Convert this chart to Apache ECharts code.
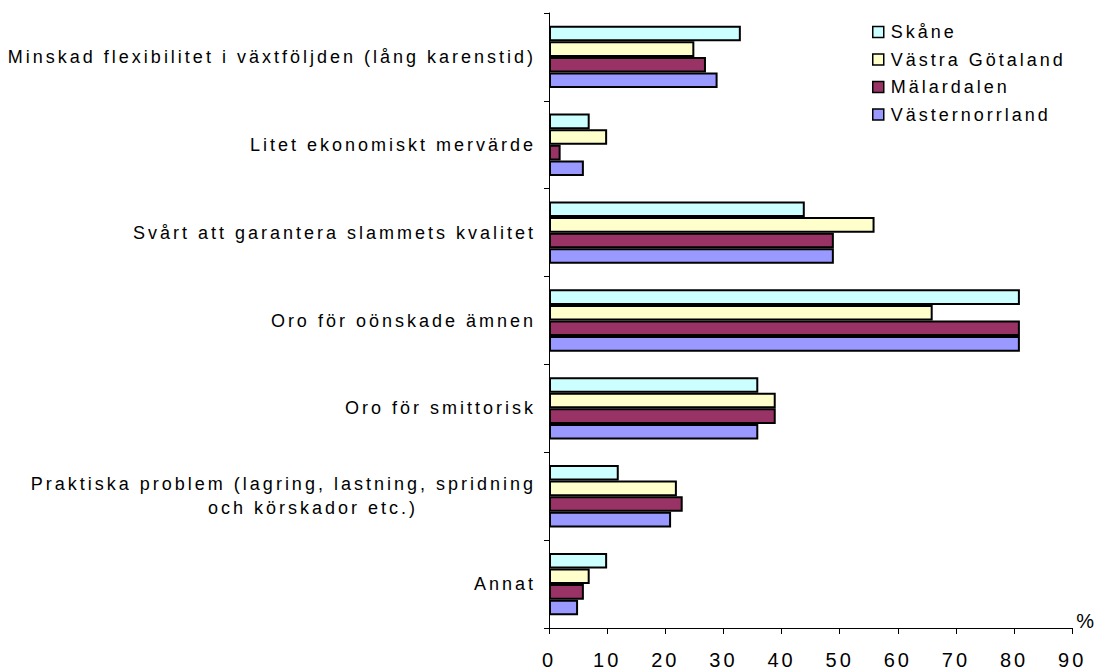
<!DOCTYPE html>
<html>
<head>
<meta charset="utf-8">
<script src="https://cdn.jsdelivr.net/npm/echarts@6/dist/echarts.min.js"></script>
<style>
html,body{margin:0;padding:0;background:#fff;}
#chart{width:1097px;height:670px;}
#chart text{letter-spacing:3px;}
</style>
</head>
<body>
<div id="chart"></div>
<script>
var categories = [
  'Minskad flexibilitet i växtföljden (lång karenstid)',
  'Litet ekonomiskt mervärde',
  'Svårt att garantera slammets kvalitet',
  'Oro för oönskade ämnen',
  'Oro för smittorisk',
  'Praktiska problem (lagring, lastning, spridning\noch körskador etc.)',
  'Annat'
];
var seriesNames = ['Skåne', 'Västra Götaland', 'Mälardalen', 'Västernorrland'];
var skane = [33, 7, 44, 81, 36, 12, 10];
var vastraGotaland = [25, 10, 56, 66, 39, 22, 7];
var malardalen = [27, 2, 49, 81, 39, 23, 6];
var vasternorrland = [29, 6, 49, 81, 36, 21, 5];
var xTicks = [0, 10, 20, 30, 40, 50, 60, 70, 80, 90];

var colors = ['#CCFFFF', '#FFFFCC', '#993366', '#9999FF'];
var values = [skane, vastraGotaland, malardalen, vasternorrland];
var font = 'Liberation Sans';

var chart = echarts.init(document.getElementById('chart'), null, {renderer: 'svg'});
chart.setOption({
  animation: false,
  backgroundColor: '#ffffff',
  textStyle: {fontFamily: font},
  grid: {left: 549, right: 23, top: 13, bottom: 42, containLabel: false},
  legend: {
    orient: 'vertical',
    left: 867,
    top: 18,
    itemWidth: 11,
    itemHeight: 11,
    itemGap: 9.5,
    icon: 'rect',
    data: seriesNames,
    textStyle: {fontFamily: font, fontSize: 18, lineHeight: 18, color: '#000', padding: [0, 0, 0, 2]},
    itemStyle: {borderColor: '#000', borderWidth: 1.5}
  },
  xAxis: {
    type: 'value',
    min: xTicks[0],
    max: xTicks[xTicks.length - 1],
    interval: 10,
    name: '%',
    nameLocation: 'end',
    nameGap: 4,
    nameTextStyle: {fontFamily: font, fontSize: 20, color: '#000', align: 'left', verticalAlign: 'bottom', padding: [0, 0, -3, 0]},
    axisLine: {show: true, lineStyle: {color: '#000', width: 1}},
    axisTick: {show: true, length: 6, lineStyle: {color: '#000'}},
    splitLine: {show: false},
    axisLabel: {fontFamily: font, fontSize: 20, color: '#000', margin: 22}
  },
  yAxis: {
    type: 'category',
    inverse: true,
    data: categories,
    axisLine: {show: true, lineStyle: {color: '#000', width: 1}},
    axisTick: {show: true, length: 5, lineStyle: {color: '#000'}},
    axisLabel: {
      fontFamily: font, fontSize: 18, color: '#000', margin: 13, lineHeight: 24,
      formatter: function (v) {
        var parts = v.split('\n');
        if (parts.length === 1) return v;
        return '{a|' + parts[0] + '}\n{c|' + parts[1] + '}';
      },
      rich: {
        a: {fontFamily: font, fontSize: 18, color: '#000', lineHeight: 24, align: 'right'},
        c: {fontFamily: font, fontSize: 18, color: '#000', lineHeight: 24, align: 'right', padding: [0, 118, 0, 0]}
      }
    }
  },
  series: seriesNames.map(function (n, i) {
    return {
      name: n,
      type: 'bar',
      data: values[i],
      barGap: '0%',
      barCategoryGap: '29%',
      itemStyle: {color: colors[i], borderColor: '#000', borderWidth: 2}
    };
  })
});
</script>
</body>
</html>
